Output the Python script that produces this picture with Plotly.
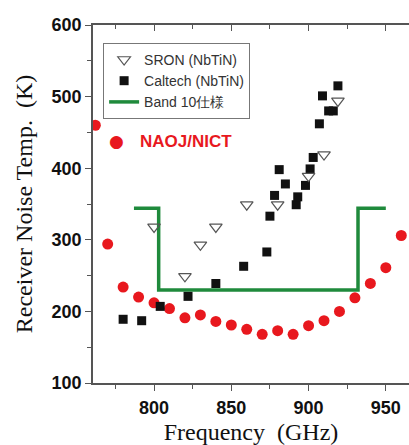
import plotly.graph_objects as go

# NAOJ/NICT (red dots)
naoj_freq = [762, 770, 780, 790, 800, 810, 820, 830, 840, 850, 860, 870, 880, 890,
             900, 910, 920, 930, 940, 950, 960]
naoj_temp = [460, 294, 234, 220, 212, 204, 191, 195, 186, 181, 175, 168, 173, 168,
             180, 187, 200, 219, 239, 261, 306]

# Caltech (NbTiN)
caltech_freq = [780, 792, 804, 822, 840, 858, 873, 875, 878, 881, 885, 892, 893, 898,
                901, 903, 907, 909, 913, 916, 919]
caltech_temp = [189, 187, 207, 221, 239, 263, 283, 333, 362, 398, 378, 349, 360, 376,
                399, 415, 462, 501, 480, 480, 515]

# SRON (NbTiN)
sron_freq = [800, 820, 830, 840, 860, 880, 900, 910, 919]
sron_temp = [318, 249, 293, 318, 349, 349, 389, 419, 494]

# Band 10 specification
band10_freq = [787, 803, 803, 932, 932, 950]
band10_temp = [344, 344, 230, 230, 344, 344]

fig = go.Figure()

fig.add_trace(go.Scatter(
    x=band10_freq, y=band10_temp, mode="lines", name="Band 10仕様",
    line=dict(color="#1f8a3c", width=3.5), legendrank=3))

fig.add_trace(go.Scatter(
    x=naoj_freq, y=naoj_temp, mode="markers", name="NAOJ/NICT", showlegend=False,
    marker=dict(symbol="circle", size=11, color="#e8181e")))

fig.add_trace(go.Scatter(
    x=caltech_freq, y=caltech_temp, mode="markers", name="Caltech (NbTiN)",
    marker=dict(symbol="square", size=9, color="#111111"), legendrank=2))

fig.add_trace(go.Scatter(
    x=sron_freq, y=sron_temp, mode="markers", name="SRON (NbTiN)",
    marker=dict(symbol="triangle-down-open", size=11, color="#555555",
                line=dict(width=1.2, color="#555555")), legendrank=1))

tickfont = dict(family="Liberation Sans", size=18, color="#111111", weight="bold")

fig.update_layout(
    width=409, height=445,
    margin=dict(l=93, r=0, t=25, b=62),
    plot_bgcolor="white", paper_bgcolor="white",
    showlegend=True,
    legend=dict(x=0.032, y=0.95, xanchor="left", yanchor="top",
                bgcolor="white", bordercolor="#777777", borderwidth=1,
                font=dict(family="Liberation Sans", size=14, color="#333333"),
                tracegroupgap=0),
    xaxis=dict(range=[760.5, 965], tickvals=[800, 850, 900, 950],
               showgrid=False, zeroline=False, showline=True, linecolor="#555555",
               linewidth=1.5, mirror=True, ticks="outside", ticklen=6,
               tickcolor="#555555",
               minor=dict(tickvals=[775, 825, 875, 925], ticks="outside", ticklen=4,
                          tickcolor="#555555"),
               tickfont=tickfont, ticklabelstandoff=2,
               title=dict(text="Frequency  (GHz)",
                          font=dict(family="Liberation Serif", size=24, color="#111111"),
                          standoff=6)),
    yaxis=dict(range=[100, 600], tickvals=[100, 200, 300, 400, 500, 600],
               showgrid=False, zeroline=False, showline=True, linecolor="#555555",
               linewidth=1.5, ticks="outside", ticklen=6, tickcolor="#555555",
               minor=dict(tickvals=[150, 250, 350, 450, 550], ticks="outside",
                          ticklen=4, tickcolor="#555555"),
               tickfont=tickfont,
               title=dict(text="Receiver Noise Temp.  (K)",
                          font=dict(family="Liberation Serif", size=24, color="#111111"),
                          standoff=12)),
    xaxis2=dict(overlaying="x", matches="x", side="top", anchor="y",
                range=[760.5, 965], tickvals=[800, 850, 900, 950],
                showticklabels=False, showgrid=False, zeroline=False,
                ticks="inside", ticklen=6, tickcolor="#555555",
                minor=dict(tickvals=[775, 825, 875, 925], ticks="inside", ticklen=4,
                           tickcolor="#555555")),
)

# invisible trace to anchor the top axis
fig.add_trace(go.Scatter(x=[naoj_freq[0]], y=[naoj_temp[0]], xaxis="x2", mode="markers",
                         marker=dict(opacity=0), showlegend=False, hoverinfo="skip"))

fig.add_annotation(xref="paper", yref="paper", x=0.075, y=0.675, xanchor="center",
                   yanchor="middle", text="●", showarrow=False,
                   font=dict(family="DejaVu Sans", size=17, color="#e8181e"))
fig.add_annotation(xref="paper", yref="paper", x=0.142, y=0.675, xanchor="left",
                   yanchor="middle", text="<b>NAOJ/NICT</b>", showarrow=False,
                   font=dict(family="Liberation Sans", size=17, color="#e8181e"))

fig.write_html("out.html")
